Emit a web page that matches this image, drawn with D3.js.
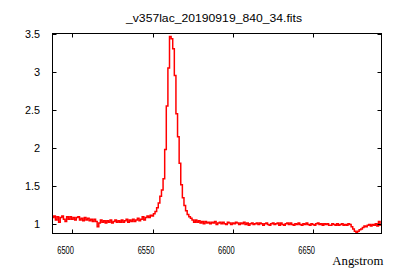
<!DOCTYPE html>
<html><head><meta charset="utf-8">
<script src="https://cdn.jsdelivr.net/npm/d3@7"></script>
<style>html,body{margin:0;padding:0;background:#fff;}svg{display:block;}</style>
</head><body>
<script>
const title = "_v357lac_20190919_840_34.fits";
const xLabel = "Angstrom";
const xTicks = [6500, 6550, 6600, 6650];
const yTicks = [1, 1.5, 2, 2.5, 3, 3.5];
const yTickLabels = ["1", "1.5", "2", "2.5", "3", "3.5"];
const waveStart = 6488, waveStep = 1;
const flux = [
1.09,1.11,1.06,1.10,1.03,1.09,1.11,1.07,1.04,1.10,
1.07,1.10,1.07,1.09,1.06,1.09,1.10,1.06,1.08,1.05,
1.09,1.06,1.08,1.05,1.07,1.04,1.07,1.04,0.97,1.02,
1.06,1.03,1.05,1.02,1.05,1.03,1.06,1.02,1.04,1.06,
1.03,1.05,1.03,1.06,1.03,1.05,1.07,1.03,1.06,1.04,
1.07,1.04,1.06,1.08,1.05,1.07,1.10,1.06,1.09,1.11,
1.09,1.12,1.11,1.14,1.17,1.22,1.28,1.37,1.45,1.60,
1.98,2.55,3.05,3.46,3.43,3.30,2.95,2.45,2.15,1.80,
1.52,1.35,1.25,1.18,1.13,1.10,1.08,1.06,1.03,1.06,
1.03,1.05,1.02,1.04,1.01,1.04,1.02,1.03,1.01,1.03,
1.02,1.04,1.00,1.02,1.03,1.01,1.03,1.01,1.00,1.03,
1.02,1.00,1.02,1.01,1.03,1.02,1.00,1.02,1.01,1.03,
1.00,1.02,0.99,1.01,1.02,1.00,1.01,1.02,1.00,1.02,
1.01,0.99,1.01,1.02,1.00,0.99,1.01,1.02,1.00,1.01,
1.02,0.99,1.02,1.00,0.99,1.01,1.02,1.00,1.02,1.00,
0.99,1.01,1.00,1.02,1.00,0.99,1.01,1.00,1.02,1.00,
0.99,1.01,1.00,0.99,1.01,1.02,1.00,1.01,0.99,1.01,
1.00,1.01,0.99,0.99,1.01,1.00,0.99,1.01,0.99,1.00,
1.01,0.99,1.00,0.99,1.01,1.00,0.97,0.94,0.91,0.90,
0.91,0.93,0.94,0.96,0.98,0.97,0.99,1.00,0.98,1.00,
0.99,1.01,0.98,1.04,0.99
];

const W = 400, H = 280;
const L = 52.5, R = 381.5, T = 33.5, B = 233.5;
const svg = d3.select("body").append("svg").attr("width", W).attr("height", H);

const x = d3.scaleLinear().domain([6487.7, 6692.4]).range([L, R]);
const y = d3.scaleLinear().domain([0.882, 3.5]).range([B, T]);

const data = flux.map((f, i) => ({w: waveStart + i * waveStep, f}));

svg.append("defs").append("clipPath").attr("id", "clip")
  .append("rect").attr("x", L).attr("y", T).attr("width", R - L).attr("height", B - T);

svg.append("path").datum(data)
  .attr("clip-path", "url(#clip)")
  .attr("fill", "none").attr("stroke", "#ff0000").attr("stroke-width", 1.5)
  .attr("d", d3.line().x(d => x(d.w)).y(d => y(d.f)).curve(d3.curveStep));

const tickLen = 4;
const axisColor = "#000";
const gx = svg.append("g");
xTicks.forEach(t => {
  const px = Math.round(x(t)) + 0.5;
  gx.append("line").attr("x1", px).attr("x2", px).attr("y1", B).attr("y2", B - tickLen).attr("stroke", axisColor);
  gx.append("line").attr("x1", px).attr("x2", px).attr("y1", T).attr("y2", T + tickLen).attr("stroke", axisColor);
  gx.append("text").attr("x", x(t) - 15).attr("y", 253.5)
    .attr("font-family", "Liberation Sans, Arial, sans-serif").attr("font-size", 11)
    .attr("textLength", 16.7).attr("lengthAdjust", "spacingAndGlyphs")
    .attr("fill", "#000").text(d3.format("d")(t));
});
const gy = svg.append("g");
yTicks.forEach((t, i) => {
  const py = Math.round(y(t)) + 0.5;
  gy.append("line").attr("x1", L).attr("x2", L + tickLen).attr("y1", py).attr("y2", py).attr("stroke", axisColor);
  gy.append("line").attr("x1", R).attr("x2", R - tickLen).attr("y1", py).attr("y2", py).attr("stroke", axisColor);
  const lab = yTickLabels[i];
  const tx = gy.append("text").attr("x", 40).attr("y", y(t) + 4)
    .attr("text-anchor", "end")
    .attr("font-family", "Liberation Sans, Arial, sans-serif").attr("font-size", 11)
    .attr("fill", "#000").text(lab);
  if (lab.length > 1) tx.attr("textLength", 15).attr("lengthAdjust", "spacingAndGlyphs");
});

svg.append("rect").attr("x", L).attr("y", T).attr("width", R - L).attr("height", B - T)
  .attr("fill", "none").attr("stroke", axisColor).attr("stroke-width", 1);

svg.append("text").attr("x", 214).attr("y", 21.5).attr("text-anchor", "middle")
  .attr("font-family", "Liberation Sans, Arial, sans-serif").attr("font-size", 10.5)
  .attr("textLength", 176).attr("lengthAdjust", "spacingAndGlyphs")
  .attr("fill", "#000").text(title);

svg.append("text").attr("x", 383.3).attr("y", 265).attr("text-anchor", "end")
  .attr("font-family", "Liberation Serif, Times New Roman, serif").attr("font-size", 12)
  .attr("textLength", 51).attr("lengthAdjust", "spacingAndGlyphs")
  .attr("fill", "#000").text(xLabel);
</script>
</body></html>
